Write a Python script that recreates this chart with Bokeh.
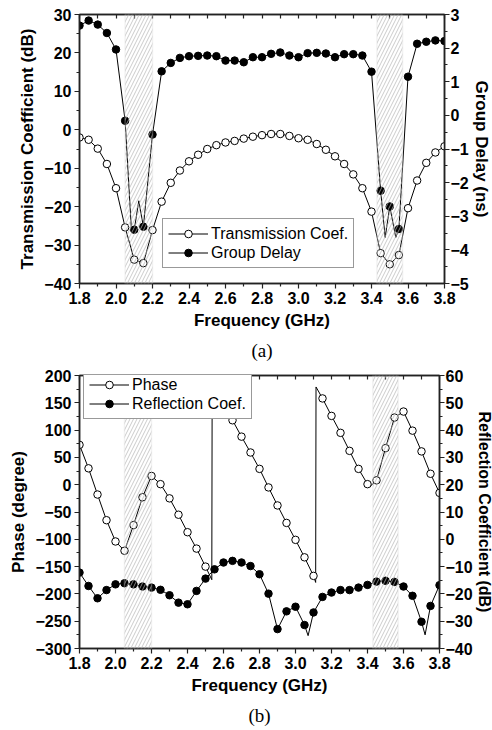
from bokeh.plotting import figure
from bokeh.models import (Range1d, LinearAxis, SingleIntervalTicker, FixedTicker, BoxAnnotation,
                          Legend, LegendItem, Title, PrintfTickFormatter)
from bokeh.layouts import column
from bokeh.embed import file_html
from bokeh.resources import INLINE

# ---------------- data ----------------
freq = [1.80, 1.85, 1.90, 1.95, 2.00, 2.05, 2.10, 2.15, 2.20, 2.25, 2.30,
        2.35, 2.40, 2.45, 2.50, 2.55, 2.60, 2.65, 2.70, 2.75, 2.80, 2.85,
        2.90, 2.95, 3.00, 3.05, 3.10, 3.15, 3.20, 3.25, 3.30, 3.35, 3.40,
        3.45, 3.50, 3.55, 3.60, 3.65, 3.70, 3.75, 3.80]

# frequency axis ticks (GHz)
freq_major_ticks = [1.8, 2.0, 2.2, 2.4, 2.6, 2.8, 3.0, 3.2, 3.4, 3.6, 3.8]
freq_minor_ticks = [1.9, 2.1, 2.3, 2.5, 2.7, 2.9, 3.1, 3.3, 3.5, 3.7]

# (a) transmission coefficient (dB) and group delay (ns)
trans_db = [-2.0, -2.6, -4.9, -8.9, -15.2, -25.4, -33.8, -34.7, -26.1, -18.7, -13.8,
            -10.6, -8.2, -6.5, -5.0, -4.0, -3.3, -2.9, -2.3, -1.8, -1.4, -1.1,
            -1.1, -1.6, -2.2, -2.6, -3.7, -5.2, -6.9, -8.9, -11.6, -15.2, -21.3,
            -32.1, -35.0, -32.6, -20.4, -13.2, -8.6, -5.9, -4.3]
group_delay = [2.67, 2.82, 2.70, 2.45, 1.96, -0.16, -3.40, -3.31, -0.57, 1.31, 1.56,
               1.71, 1.76, 1.77, 1.78, 1.76, 1.63, 1.63, 1.58, 1.73, 1.73, 1.83,
               1.87, 1.78, 1.73, 1.85, 1.86, 1.84, 1.73, 1.82, 1.82, 1.78, 1.30,
               -2.24, -2.71, -3.38, 1.15, 2.13, 2.19, 2.23, 2.21]
# extra points of the finer group-delay trace (between markers)
gd_extra_freq = [2.085, 2.125, 3.475, 3.533]
gd_extra_val = [-3.45, -2.54, -3.63, -3.63]

# (b) phase (degree) and reflection coefficient (dB)
phase_deg = [73, 30, -18, -65, -104, -121, -74, -23, 16, 1, -25,
             -55, -87, -117, -150, 172, 146, 118, 88, 59, 29, -5,
             -38, -70, -101, -133, -167, 158, 126, 95, 62, 29, 1,
             8, 67, 123, 134, 99, 61, 20, -15]
phase_extra_freq = [2.535, 2.537, 3.112, 3.114, 3.415]
phase_extra_val = [-174, 180, -179, 179, -3]

refl_db = [-12.2, -17.1, -21.6, -18.6, -16.5, -16.1, -16.5, -17.3, -17.7, -18.5, -20.5,
           -23.2, -23.8, -18.9, -14.4, -11.0, -8.5, -7.9, -8.5, -9.8, -12.8, -19.9,
           -32.9, -26.4, -24.7, -31.4, -26.8, -21.1, -19.5, -18.6, -18.6, -17.7, -16.7,
           -15.5, -15.2, -15.6, -17.3, -20.7, -30.2, -24.4, -16.8]
refl_extra_freq = [3.07, 3.72]
refl_extra_val = [-35.3, -35.0]

# stop bands (GHz)
band_left = [2.05, 3.43]
band_right = [2.20, 3.57]

FONT = "Liberation Sans"


def merged(xs, ys, ex, ey):
    pts = sorted(zip(list(xs) + list(ex), list(ys) + list(ey)))
    return [a for a, _ in pts], [b for _, b in pts]


def style_axis(ax, ticker, label=None, fmt=None, std=3, lstd=4, lsize="17px"):
    ax.ticker = ticker
    if fmt:
        ax.formatter = PrintfTickFormatter(format=fmt)
    ax.major_tick_in = 0
    ax.major_tick_out = 5
    ax.minor_tick_in = 0
    ax.minor_tick_out = 3
    ax.axis_line_color = "#222222"
    ax.axis_line_width = 1.5
    ax.major_tick_line_color = "#222222"
    ax.minor_tick_line_color = "#222222"
    ax.major_tick_line_width = 1.2
    ax.minor_tick_line_width = 1.2
    ax.major_label_text_font = FONT
    ax.major_label_text_font_style = "bold"
    ax.major_label_text_font_size = "16px"
    ax.major_label_text_color = "black"
    ax.major_label_standoff = std
    if label:
        ax.axis_label = label
        ax.axis_label_text_font = FONT
        ax.axis_label_text_font_style = "bold"
        ax.axis_label_text_font_size = lsize
        ax.axis_label_text_color = "black"
        ax.axis_label_standoff = lstd


def top_mirror(p):
    ax = LinearAxis(ticker=FixedTicker(ticks=freq_major_ticks + freq_minor_ticks))
    ax.major_tick_in = 4
    ax.major_tick_out = 0
    ax.minor_tick_in = 0
    ax.minor_tick_out = 0
    ax.major_label_text_font_size = "1px"
    ax.major_label_text_color = None
    ax.major_label_standoff = 0
    ax.axis_line_color = "#222222"
    ax.axis_line_width = 1.5
    ax.major_tick_line_color = "#222222"
    ax.major_tick_line_width = 1.2
    p.add_layout(ax, "above")


def bands(p):
    for l, r in zip(band_left, band_right):
        p.add_layout(BoxAnnotation(left=l, right=r, fill_color=None, fill_alpha=0,
                                   line_color="#d4d4d4", line_width=1.5,
                                   hatch_pattern="/", hatch_color="#b4b4b4",
                                   hatch_scale=7, hatch_weight=0.7))


def make_fig(ylo, yhi, rname, rlo, rhi, border_left, border_right, fw, fh, top):
    p = figure(frame_width=fw, frame_height=fh,
               x_range=Range1d(1.8, 3.8), y_range=Range1d(ylo, yhi),
               output_backend="svg", toolbar_location=None,
               min_border_left=border_left, min_border_right=border_right,
               min_border_top=top, min_border_bottom=82)
    p.extra_y_ranges = {rname: Range1d(rlo, rhi)}
    p.xgrid.visible = False
    p.ygrid.visible = False
    p.outline_line_color = "#222222"
    p.outline_line_width = 1.5
    p.background_fill_color = "white"
    p.border_fill_color = "white"
    return p


def freq_ticker():
    return FixedTicker(ticks=freq_major_ticks, minor_ticks=freq_minor_ticks)


# ---------------- (a) ----------------
p1 = make_fig(-40, 30, "gd", -5, 3, 78, 49, 365, 269, 14)
style_axis(p1.xaxis[0], freq_ticker(), "Frequency (GHz)", "%.1f")
style_axis(p1.yaxis[0], SingleIntervalTicker(interval=10, num_minor_ticks=2),
           "Transmission Coefficient (dB)")
ra1 = LinearAxis(y_range_name="gd")
style_axis(ra1, SingleIntervalTicker(interval=1, num_minor_ticks=2), "Group Delay (ns)",
           std=1, lstd=0)
p1.add_layout(ra1, "right")
top_mirror(p1)

t_line = p1.line(freq, trans_db, line_color="black", line_width=1)
t_mark = p1.scatter(freq, trans_db, marker="circle", size=7.5, fill_color="white",
                    line_color="black", line_width=1)
gx, gy = merged(freq, group_delay, gd_extra_freq, gd_extra_val)
g_line = p1.line(gx, gy, line_color="black", line_width=1, y_range_name="gd")
g_mark = p1.scatter(freq, group_delay, marker="circle", size=7.5, fill_color="black",
                    line_color="black", line_width=1, y_range_name="gd")
bands(p1)

leg1 = Legend(items=[LegendItem(label="Transmission Coef.", renderers=[t_line, t_mark]),
                     LegendItem(label="Group Delay", renderers=[g_line, g_mark])],
              location=(83, 15))
p1.add_layout(leg1)

p1.add_layout(Title(text="(a)", align="center", text_font="Liberation Serif",
                    text_font_size="19px", text_font_style="normal",
                    text_color="black"), "below")

# ---------------- (b) ----------------
p2 = make_fig(-300, 200, "rc", -40, 60, 79, 53, 360, 273, 10)
style_axis(p2.xaxis[0], freq_ticker(), "Frequency (GHz)", "%.1f")
style_axis(p2.yaxis[0], SingleIntervalTicker(interval=50, num_minor_ticks=2), "Phase (degree)")
ra2 = LinearAxis(y_range_name="rc")
style_axis(ra2, SingleIntervalTicker(interval=10, num_minor_ticks=2),
           "Reflection Coefficient (dB)", std=1, lstd=0, lsize="16px")
p2.add_layout(ra2, "right")
top_mirror(p2)

px, py = merged(freq, phase_deg, phase_extra_freq, phase_extra_val)
ph_line = p2.line(px, py, line_color="black", line_width=1)
ph_mark = p2.scatter(freq, phase_deg, marker="circle", size=7.5, fill_color="white",
                     line_color="black", line_width=1)
rx, ry = merged(freq, refl_db, refl_extra_freq, refl_extra_val)
rc_line = p2.line(rx, ry, line_color="black", line_width=1, y_range_name="rc")
rc_mark = p2.scatter(freq, refl_db, marker="circle", size=7.5, fill_color="black",
                     line_color="black", line_width=1, y_range_name="rc")
bands(p2)

leg2 = Legend(items=[LegendItem(label="Phase", renderers=[ph_line, ph_mark]),
                     LegendItem(label="Reflection Coef.", renderers=[rc_line, rc_mark])],
              location=(4, 229))
p2.add_layout(leg2)

p2.add_layout(Title(text="(b)", align="center", text_font="Liberation Serif",
                    text_font_size="19px", text_font_style="normal",
                    text_color="black"), "below")

for lg in (leg1, leg2):
    lg.label_text_font = FONT
    lg.label_text_font_size = "16px"
    lg.label_text_color = "black"
    lg.glyph_width = 40
    lg.glyph_height = 19
    lg.label_height = 19
    lg.label_standoff = 3
    lg.spacing = 0
    lg.padding = 5
    lg.margin = 0
    lg.border_line_color = "#333333"
    lg.border_line_width = 1.2
    lg.background_fill_color = "white"
    lg.background_fill_alpha = 1.0

layout = column(p1, p2, spacing=0)
open("out.html", "w").write(file_html(layout, INLINE))
